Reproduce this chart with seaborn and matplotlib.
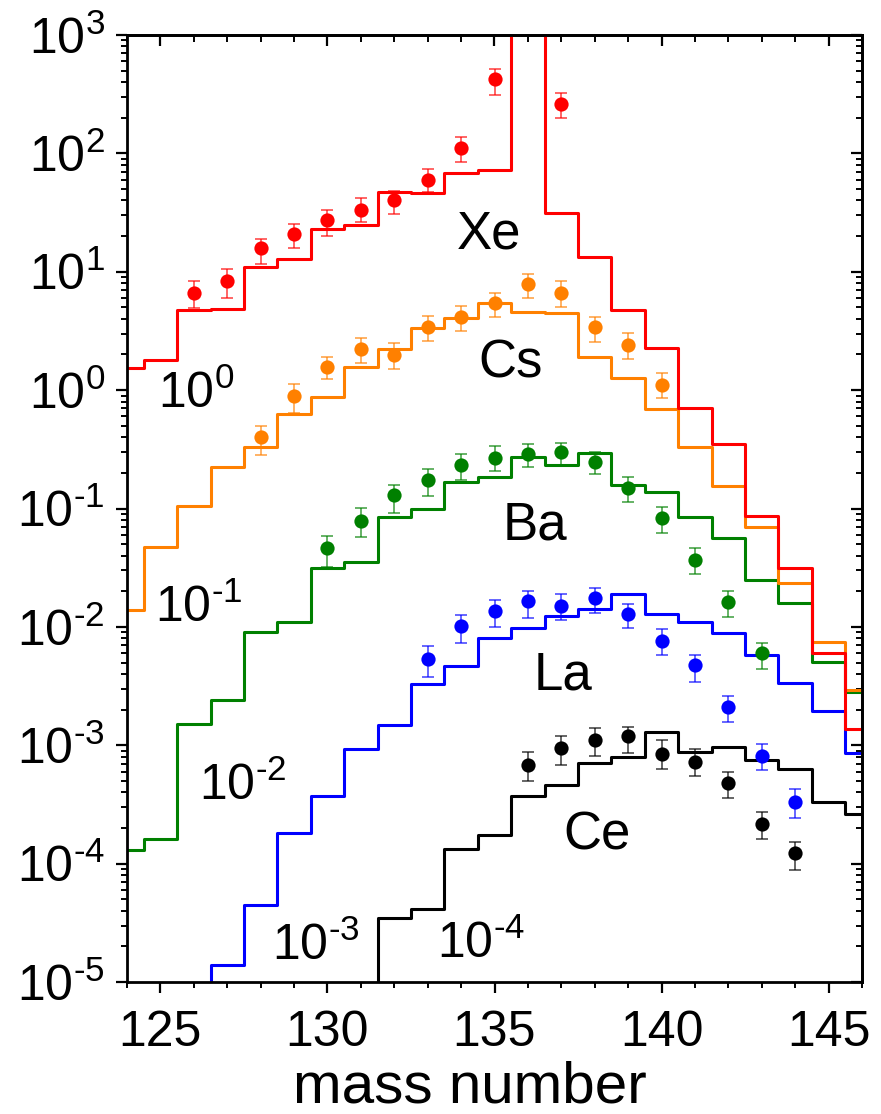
import numpy as np
import matplotlib
matplotlib.use("Agg")
import matplotlib.pyplot as plt
import seaborn as sns
from matplotlib.ticker import (LogLocator, MultipleLocator, NullFormatter, FixedLocator,
                               FuncFormatter)

# ---- model curves (step histograms), values already multiplied by the scale factor ----
xe_mass = list(range(124, 147))
xe_model = [1.53, 1.80, 4.75, 4.85, 11.0, 12.9, 23.1, 24.8, 47.5, 46.0, 67.9, 72.4,
            5000.0, 31.2, 13.2, 4.75, 2.29, 0.70, 0.349, 0.0867, 0.0317, 0.00607, 0.00137]

cs_mass = list(range(124, 147))
cs_model = [0.0139, 0.0477, 0.106, 0.223, 0.333, 0.625, 0.871, 1.58, 2.23, 3.37, 4.05, 5.42,
            4.55, 4.45, 1.90, 1.26, 0.69, 0.333, 0.155, 0.0703, 0.0237, 0.00752, 0.00294]

ba_mass = list(range(124, 147))
ba_model = [1.31e-4, 1.61e-4, 1.51e-3, 2.39e-3, 9.02e-3, 0.0109, 0.0313, 0.0356, 0.0855,
            0.0993, 0.169, 0.184, 0.271, 0.233, 0.297, 0.158, 0.137, 0.0855, 0.0561,
            0.0249, 0.016, 0.00509, 0.00284]

la_mass = list(range(126, 147))
la_model = [3e-6, 1.40e-5, 4.43e-5, 1.81e-4, 3.76e-4, 9.33e-4, 1.47e-3, 3.28e-3, 4.69e-3,
            8.02e-3, 9.75e-3, 0.01247, 0.0141, 0.0189, 0.0128, 0.0109, 8.95e-3, 5.8e-3,
            3.34e-3, 1.95e-3, 8.67e-4]

ce_mass = list(range(131, 147))
ce_model = [3e-6, 3.47e-5, 4.15e-5, 1.33e-4, 1.73e-4, 3.74e-4, 4.63e-4, 7.06e-4, 7.94e-4,
            1.29e-3, 8.75e-4, 9.63e-4, 7.53e-4, 6.28e-4, 3.31e-4, 2.63e-4]

# ---- measured cross sections with lower / upper error limits ----
xe_pm = [126, 127, 128, 129, 130, 131, 132, 133, 134, 135, 137]
xe_val = [6.58, 8.36, 16.0, 20.7, 27.4, 33.3, 40.3, 59.6, 112.0, 423.0, 261.0]
xe_lo = [4.92, 6.04, 11.6, 15.8, 20.2, 26.2, 30.6, 46.9, 84.1, 311.0, 200.0]
xe_hi = [8.36, 10.5, 18.9, 25.2, 33.3, 42.3, 48.1, 73.7, 138.0, 517.0, 322.0]

cs_pm = [128, 129, 130, 131, 132, 133, 134, 135, 136, 137, 138, 139, 140]
cs_val = [0.400, 0.899, 1.58, 2.23, 1.98, 3.44, 4.18, 5.42, 7.84, 6.65, 3.44, 2.41, 1.11]
cs_lo = [0.284, 0.638, 1.24, 1.69, 1.50, 2.61, 3.16, 4.18, 6.04, 5.07, 2.57, 1.82, 0.853]
cs_hi = [0.499, 1.12, 1.92, 2.77, 2.52, 4.24, 5.14, 6.58, 9.52, 8.36, 4.18, 3.02, 1.39]

ba_pm = [130, 131, 132, 133, 134, 135, 136, 137, 138, 139, 140, 141, 142, 143]
ba_val = [0.0462, 0.0791, 0.130, 0.175, 0.233, 0.269, 0.289, 0.299, 0.249, 0.148, 0.0828,
          0.0368, 0.0162, 0.0060]
ba_lo = [0.0323, 0.0573, 0.0922, 0.1285, 0.175, 0.208, 0.223, 0.229, 0.195, 0.114, 0.0625,
         0.0281, 0.0122, 0.0044]
ba_hi = [0.0588, 0.1007, 0.158, 0.216, 0.289, 0.338, 0.349, 0.360, 0.299, 0.186, 0.102,
         0.0462, 0.0201, 0.00736]

la_pm = [133, 134, 135, 136, 137, 138, 139, 140, 141, 142, 143, 144]
la_val = [5.33e-3, 0.0102, 0.01365, 0.0166, 0.01504, 0.01747, 0.0128, 7.62e-3, 4.78e-3,
          2.12e-3, 8.19e-4, 3.31e-4]
la_lo = [3.80e-3, 7.28e-3, 0.01006, 0.0120, 0.01146, 0.01305, 9.75e-3, 5.8e-3, 3.45e-3,
         1.57e-3, 6.19e-4, 2.45e-4]
la_hi = [6.83e-3, 0.0126, 0.0169, 0.0201, 0.0190, 0.0212, 0.01563, 9.55e-3, 5.8e-3,
         2.63e-3, 1.03e-3, 4.28e-4]

ce_pm = [136, 137, 138, 139, 140, 141, 142, 143, 144]
ce_val = [6.83e-4, 9.44e-4, 1.11e-3, 1.19e-3, 8.45e-4, 7.19e-4, 4.79e-4, 2.17e-4, 1.23e-4]
ce_lo = [5.0e-4, 6.83e-4, 8.19e-4, 8.57e-4, 6.28e-4, 5.45e-4, 3.57e-4, 1.61e-4, 8.87e-5]
ce_hi = [8.75e-4, 1.19e-3, 1.39e-3, 1.44e-3, 1.10e-3, 9.27e-4, 5.93e-4, 2.75e-4, 1.52e-4]

elements = ["Xe", "Cs", "Ba", "La", "Ce"]
scale_exponents = [0, -1, -2, -3, -4]
x_ticks = [125, 130, 135, 140, 145]
y_ticks = [1e-5, 1e-4, 1e-3, 1e-2, 1e-1, 1e0, 1e1, 1e2, 1e3]

colors = {"Xe": "#ff0000", "Cs": "#ff8000", "Ba": "#008000", "La": "#0000ff", "Ce": "#000000"}

models = {
    "Xe": (xe_mass, xe_model), "Cs": (cs_mass, cs_model), "Ba": (ba_mass, ba_model),
    "La": (la_mass, la_model), "Ce": (ce_mass, ce_model),
}
points = {
    "Xe": (xe_pm, xe_val, xe_lo, xe_hi), "Cs": (cs_pm, cs_val, cs_lo, cs_hi),
    "Ba": (ba_pm, ba_val, ba_lo, ba_hi), "La": (la_pm, la_val, la_lo, la_hi),
    "Ce": (ce_pm, ce_val, ce_lo, ce_hi),
}

sns.set_style("ticks")
plt.rcParams["font.family"] = ["Liberation Sans", "DejaVu Sans"]
plt.rcParams["mathtext.fontset"] = "custom"
plt.rcParams["mathtext.rm"] = "Liberation Sans"
plt.rcParams["mathtext.it"] = "Liberation Sans:italic"
plt.rcParams["mathtext.default"] = "regular"
plt.rcParams["axes.unicode_minus"] = False
for key in ("text.color", "axes.labelcolor", "xtick.color", "ytick.color",
            "xtick.labelcolor", "ytick.labelcolor", "axes.edgecolor"):
    plt.rcParams[key] = "black"


def power_label(exp):
    """Power of ten with a short hyphen as the minus sign."""
    if exp < 0:
        return r"$\mathdefault{10^{\text{-}%d}}$" % (-exp)
    return r"$\mathdefault{10^{%d}}$" % exp


W, H = 881, 1114
fig = plt.figure(figsize=(W / 100, H / 100), dpi=100)
ax = fig.add_axes([127 / W, 1 - 982 / H, (862 - 127) / W, (982 - 35) / H])
ax.set_yscale("log")

# step histograms: Ce drawn first so Xe ends on top
for el in reversed(elements):
    m, v = models[el]
    sns.lineplot(x=m, y=v, ax=ax, color=colors[el], linewidth=2.2,
                 drawstyle="steps-mid", estimator=None, sort=False, zorder=2)

# measured points with error bars
for el in reversed(elements):
    m, v, lo, hi = points[el]
    v_arr, lo_arr, hi_arr = np.array(v), np.array(lo), np.array(hi)
    ax.errorbar(m, v_arr, yerr=[v_arr - lo_arr, hi_arr - v_arr], fmt="none",
                ecolor=colors[el], elinewidth=1.2, capsize=4.3, capthick=1.2,
                alpha=0.7, zorder=3)
    sns.scatterplot(x=m, y=v, ax=ax, color=colors[el], s=105, linewidth=0, zorder=4)

ax.set_xlim(124, 146)
ax.set_ylim(1e-5, 1e3)

# axis ticks: outward on bottom / left, inward on top / right
ax.xaxis.set_major_locator(FixedLocator(x_ticks))
ax.xaxis.set_minor_locator(MultipleLocator(1))
ax.yaxis.set_major_locator(FixedLocator(y_ticks))
ax.yaxis.set_minor_locator(LogLocator(base=10, subs=np.arange(2, 10), numticks=20))
ax.yaxis.set_major_formatter(FuncFormatter(lambda v, pos: power_label(int(round(np.log10(v))))))
ax.yaxis.set_minor_formatter(NullFormatter())
ax.tick_params(which="major", direction="out", length=8, width=1.6, labelsize=36,
               colors="black")
ax.tick_params(axis="x", which="major", pad=12)
ax.tick_params(axis="y", which="major", pad=8)
ax.tick_params(which="minor", direction="out", length=4.5, width=1.4)
ax.tick_params(top=False, right=False)

secx = ax.secondary_xaxis("top")
secx.xaxis.set_major_locator(FixedLocator(x_ticks))
secx.xaxis.set_minor_locator(MultipleLocator(1))
secx.tick_params(which="major", direction="in", length=8, width=1.6, labeltop=False)
secx.tick_params(which="minor", direction="in", length=5, width=1.4)

secy = ax.secondary_yaxis("right")
secy.yaxis.set_major_locator(FixedLocator(y_ticks))
secy.yaxis.set_minor_locator(LogLocator(base=10, subs=np.arange(2, 10), numticks=20))
secy.yaxis.set_minor_formatter(NullFormatter())
secy.tick_params(which="major", direction="in", length=8, width=1.6, labelright=False)
secy.tick_params(which="minor", direction="in", length=4, width=1.4)

for a in (ax, secx, secy):
    for sp in a.spines.values():
        sp.set_linewidth(2.0)
        sp.set_color("black")

ax.set_xlabel("mass number", fontsize=42)
ax.xaxis.label.set_va("baseline")
ax.xaxis.set_label_coords(0.467, -0.127)
ax.set_ylabel("")

# element names
name_pos = {"Xe": (133.86, 15.8), "Cs": (134.52, 1.29), "Ba": (135.24, 0.0551),
            "La": (136.17, 2.98e-3), "Ce": (137.07, 1.32e-4)}
for el in elements:
    x, y = name_pos[el]
    ax.text(x, y, el, fontsize=38, ha="left", va="baseline", zorder=5)

# scale factors applied to each element
scale_pos = [(124.94, 0.708), (124.85, 0.0110), (126.17, 3.46e-4),
             (128.35, 1.54e-5), (133.28, 1.59e-5)]
for (x, y), e in zip(scale_pos, scale_exponents):
    ax.text(x, y, power_label(e), fontsize=36, ha="left", va="baseline", zorder=5)

fig.savefig("out.png", dpi=100)
